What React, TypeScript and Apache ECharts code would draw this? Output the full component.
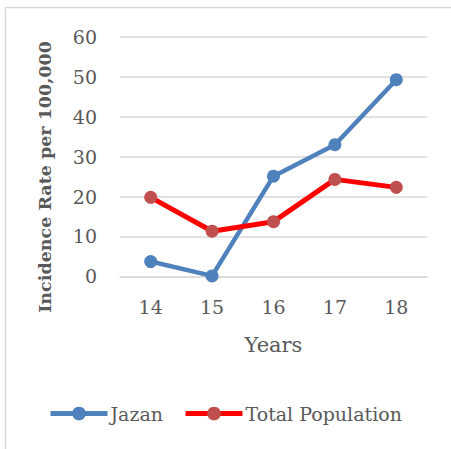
import React, { useEffect, useRef } from "react";
import * as echarts from "echarts";

const years = ["14", "15", "16", "17", "18"];
const jazan = [3.7, 0.1, 25.1, 33.0, 49.3];
const totalPopulation = [19.8, 11.3, 13.7, 24.3, 22.3];
const yTicks = { min: 0, max: 60, interval: 10 };

const FONT = "DejaVu Serif";
const TXT = "#595959";

export default function App() {
  const ref = useRef<HTMLDivElement>(null);
  useEffect(() => {
    if (!ref.current) return;
    const chart = echarts.init(ref.current, undefined, { renderer: "svg" });
    chart.setOption({
      animation: false,
      backgroundColor: "#ffffff",
      textStyle: { fontFamily: FONT, color: TXT },
      grid: { left: 120, right: 24, top: 37, bottom: 172.7 },
      graphic: [
        {
          type: "rect",
          shape: { x: 5.5, y: 7.5, width: 460, height: 460 },
          style: { fill: "none", stroke: "#d9d9d9", lineWidth: 1.5 },
          silent: true,
        },
        {
          type: "text",
          x: 45,
          y: 177,
          rotation: Math.PI / 2,
          style: {
            text: "Incidence Rate per 100,000",
            fontFamily: FONT,
            fontWeight: "bold",
            fontSize: 17.5,
            fill: TXT,
            align: "center",
            verticalAlign: "middle",
          },
        },
      ],
      xAxis: {
        type: "category",
        data: years,
        boundaryGap: true,
        name: "Years",
        nameLocation: "middle",
        nameGap: 58,
        nameTextStyle: { fontFamily: FONT, fontSize: 21, color: TXT },
        axisLine: { show: true, lineStyle: { color: "#d9d9d9", width: 1.5 } },
        axisTick: { show: false },
        axisLabel: { fontFamily: FONT, fontSize: 19, color: TXT, margin: 21 },
      },
      yAxis: {
        type: "value",
        min: yTicks.min,
        max: yTicks.max,
        interval: yTicks.interval,
        axisLine: { show: false },
        axisTick: { show: false },
        splitLine: { lineStyle: { color: "#d9d9d9", width: 1.5 } },
        axisLabel: { fontFamily: FONT, fontSize: 19, color: TXT, margin: 23 },
      },
      legend: {
        left: 48,
        top: 404,
        padding: 0,
        itemWidth: 57,
        itemHeight: 17,
        itemGap: 20,
        lineStyle: { width: 5 },
        textStyle: { fontFamily: FONT, fontSize: 19, color: TXT, padding: [0, 0, 0, -2] },
        data: ["Jazan", "Total Population"],
      },
      series: [
        {
          name: "Jazan",
          type: "line",
          data: jazan,
          symbol: "circle",
          symbolSize: 13,
          lineStyle: { color: "#4f81bd", width: 4.5 },
          itemStyle: { color: "#4f81bd" },
        },
        {
          name: "Total Population",
          type: "line",
          data: totalPopulation,
          symbol: "circle",
          symbolSize: 13,
          lineStyle: { color: "#ff0000", width: 5 },
          itemStyle: { color: "#c0504d" },
        },
      ],
    });
    return () => chart.dispose();
  }, []);
  return (
    <div
      ref={ref}
      style={{ position: "fixed", left: 0, top: 0, width: 451, height: 449 }}
    />
  );
}
